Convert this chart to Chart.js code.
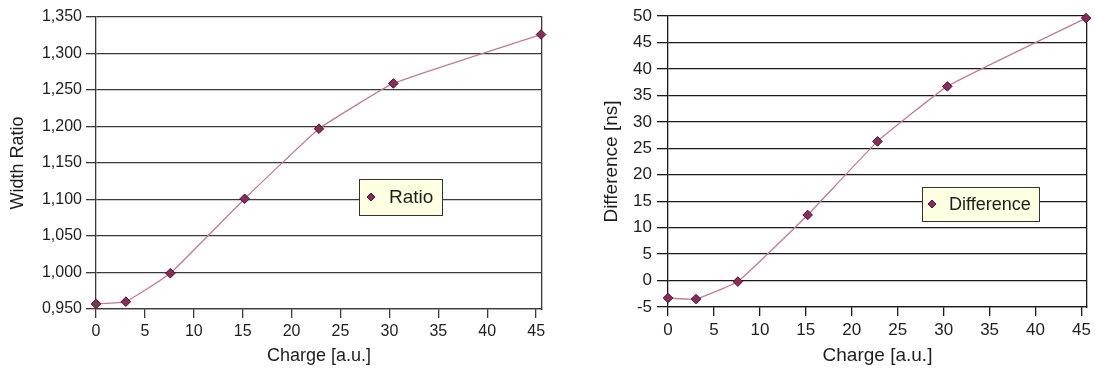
<!DOCTYPE html>
<html>
<head>
<meta charset="utf-8">
<script src="https://cdn.jsdelivr.net/npm/chart.js@4.4.1/dist/chart.umd.min.js"></script>
<style>
html, body { margin: 0; padding: 0; background: #fff; }
#wrap { position: relative; width: 1095px; height: 370px; }
.box { position: absolute; top: 0; height: 370px; }
</style>
</head>
<body>
<div id="wrap">
  <div class="box" style="left:0;width:552px"><canvas id="ratioChart"></canvas></div>
  <div class="box" style="left:590px;width:505px"><canvas id="diffChart"></canvas></div>
</div>
<script>
// values
var charge     = [0, 3.05, 7.6, 15.2, 22.8, 30.4, 45.5];
var widthRatio = [0.957, 0.960, 0.999, 1.101, 1.197, 1.259, 1.326];
var difference = [-3.3, -3.5, -0.2, 12.4, 26.3, 36.7, 49.6];

var chargeTicks = [0, 5, 10, 15, 20, 25, 30, 35, 40, 45];
var ratioTicks  = [0.95, 1.0, 1.05, 1.1, 1.15, 1.2, 1.25, 1.3, 1.35];
var diffTicks   = [-5, 0, 5, 10, 15, 20, 25, 30, 35, 40, 45, 50];
var xMax = 45.6;

var fontFamily = '"Liberation Sans", Arial, sans-serif';
var lineColor = '#c27a9a';
var markFill = '#8c2a5c';
var markEdge = '#4a1632';
var textColor = '#1e1e1e';

function toPoints(xs, ys) {
    var pts = [];
    xs.forEach(function(x, i) { pts.push({ x: x, y: ys[i] }); });
    return pts;
}

// boxed legend sitting inside the plot area (Excel style)
var boxLegend = {
    id: 'boxLegend',
    afterDraw: function(chart, args, opts) {
        var ctx = chart.ctx, area = chart.chartArea;
        var ds = chart.data.datasets[0];
        ctx.save();
        ctx.font = opts.fontSize + 'px ' + fontFamily;
        var tw = ctx.measureText(ds.label).width;
        var x = Math.round(area.left + opts.left * (area.right - area.left));
        var y = Math.round(area.top + opts.top * (area.bottom - area.top));
        var w = Math.round(opts.textX + tw + opts.padRight), h = opts.height;
        ctx.fillStyle = '#ffffe1';
        ctx.fillRect(x, y, w, h);
        ctx.strokeStyle = '#333';
        ctx.lineWidth = 1;
        ctx.strokeRect(x + 0.5, y + 0.5, w, h);
        var mx = x + opts.markX, my = y + h / 2, r = 4;
        ctx.beginPath();
        ctx.moveTo(mx - r, my); ctx.lineTo(mx, my - r); ctx.lineTo(mx + r, my); ctx.lineTo(mx, my + r);
        ctx.closePath();
        ctx.fillStyle = ds.pointBackgroundColor;
        ctx.fill();
        ctx.strokeStyle = ds.pointBorderColor;
        ctx.stroke();
        ctx.fillStyle = textColor;
        ctx.textBaseline = 'middle';
        ctx.fillText(ds.label, x + opts.textX, my + 1);
        ctx.restore();
    }
};

function makeChart(id, cfg) {
    return new Chart(document.getElementById(id), {
        type: 'line',
        data: {
            datasets: [{
                label: cfg.label,
                data: toPoints(charge, cfg.values),
                borderColor: lineColor,
                borderWidth: 1.3,
                tension: 0.1,
                pointStyle: 'rectRot',
                pointRadius: 4.8,
                pointHoverRadius: 4.8,
                pointBackgroundColor: markFill,
                pointBorderColor: markEdge,
                pointBorderWidth: 1,
                clip: false
            }]
        },
        plugins: [boxLegend],
        options: {
            responsive: true,
            maintainAspectRatio: false,
            animation: false,
            events: [],
            layout: { padding: cfg.padding },
            plugins: {
                legend: { display: false },
                tooltip: { enabled: false },
                boxLegend: cfg.legend
            },
            scales: {
                x: {
                    type: 'linear',
                    min: 0,
                    max: xMax,
                    afterBuildTicks: function(s) { s.ticks = chargeTicks.map(function(v) { return { value: v }; }); },
                    afterFit: function(s) { s.height = cfg.xHeight; },
                    grid: { drawOnChartArea: false, drawTicks: true, tickLength: 9, color: cfg.gridColor, lineWidth: 1.3 },
                    border: { color: cfg.gridColor, width: 1.3 },
                    ticks: { color: textColor, font: { family: fontFamily, size: cfg.tickSize }, padding: 4, maxRotation: 0, autoSkip: false },
                    title: { display: true, text: 'Charge [a.u.]', color: textColor, font: { family: fontFamily, size: cfg.titleSize }, padding: { top: 0, bottom: 3 } }
                },
                y: {
                    min: cfg.yTicks[0],
                    max: cfg.yTicks[cfg.yTicks.length - 1],
                    afterBuildTicks: function(s) { s.ticks = cfg.yTicks.map(function(v) { return { value: v }; }); },
                    afterFit: function(s) { s.width = cfg.yWidth; },
                    grid: { color: cfg.gridColor, tickLength: cfg.yTickLen, lineWidth: 1.3 },
                    border: { color: cfg.gridColor, width: 1.3 },
                    ticks: { color: textColor, font: { family: fontFamily, size: cfg.tickSize }, padding: cfg.yPad, callback: cfg.fmt },
                    title: { display: true, text: cfg.yTitle, color: textColor, font: { family: fontFamily, size: cfg.titleSize }, padding: { top: cfg.yTitlePad, bottom: 0 } }
                },
                frame: {
                    position: 'right',
                    afterFit: function(s) { s.width = 0; },
                    grid: { drawOnChartArea: false, drawTicks: false },
                    border: { display: true, color: cfg.gridColor, width: 1.3 },
                    ticks: { display: false }
                }
            }
        }
    });
}

makeChart('ratioChart', {
    label: 'Ratio',
    values: widthRatio,
    yTicks: ratioTicks,
    yTitle: 'Width Ratio',
    fmt: function(v) { return v.toFixed(3).replace('.', ','); },
    padding: { top: 17, right: 10, left: 0, bottom: 0 },
    xHeight: 61,
    yWidth: 96,
    yTickLen: 10,
    yPad: 4,
    yTitlePad: 7,
    tickSize: 16,
    titleSize: 18,
    gridColor: '#3a3a3a',
    legend: { left: 0.59, top: 0.555, height: 36, markX: 12, textX: 30, padRight: 9, fontSize: 19 }
});

makeChart('diffChart', {
    label: 'Difference',
    values: difference,
    yTicks: diffTicks,
    yTitle: 'Difference [ns]',
    fmt: function(v) { return String(v); },
    padding: { top: 16, right: 5, left: 0, bottom: 0 },
    xHeight: 63,
    yWidth: 78,
    yTickLen: 11,
    yPad: 5,
    yTitlePad: 10,
    tickSize: 17,
    titleSize: 19,
    gridColor: '#1a1a1a',
    legend: { left: 0.607, top: 0.588, height: 34, markX: 10, textX: 27, padRight: 8, fontSize: 18 }
});
</script>
</body>
</html>
